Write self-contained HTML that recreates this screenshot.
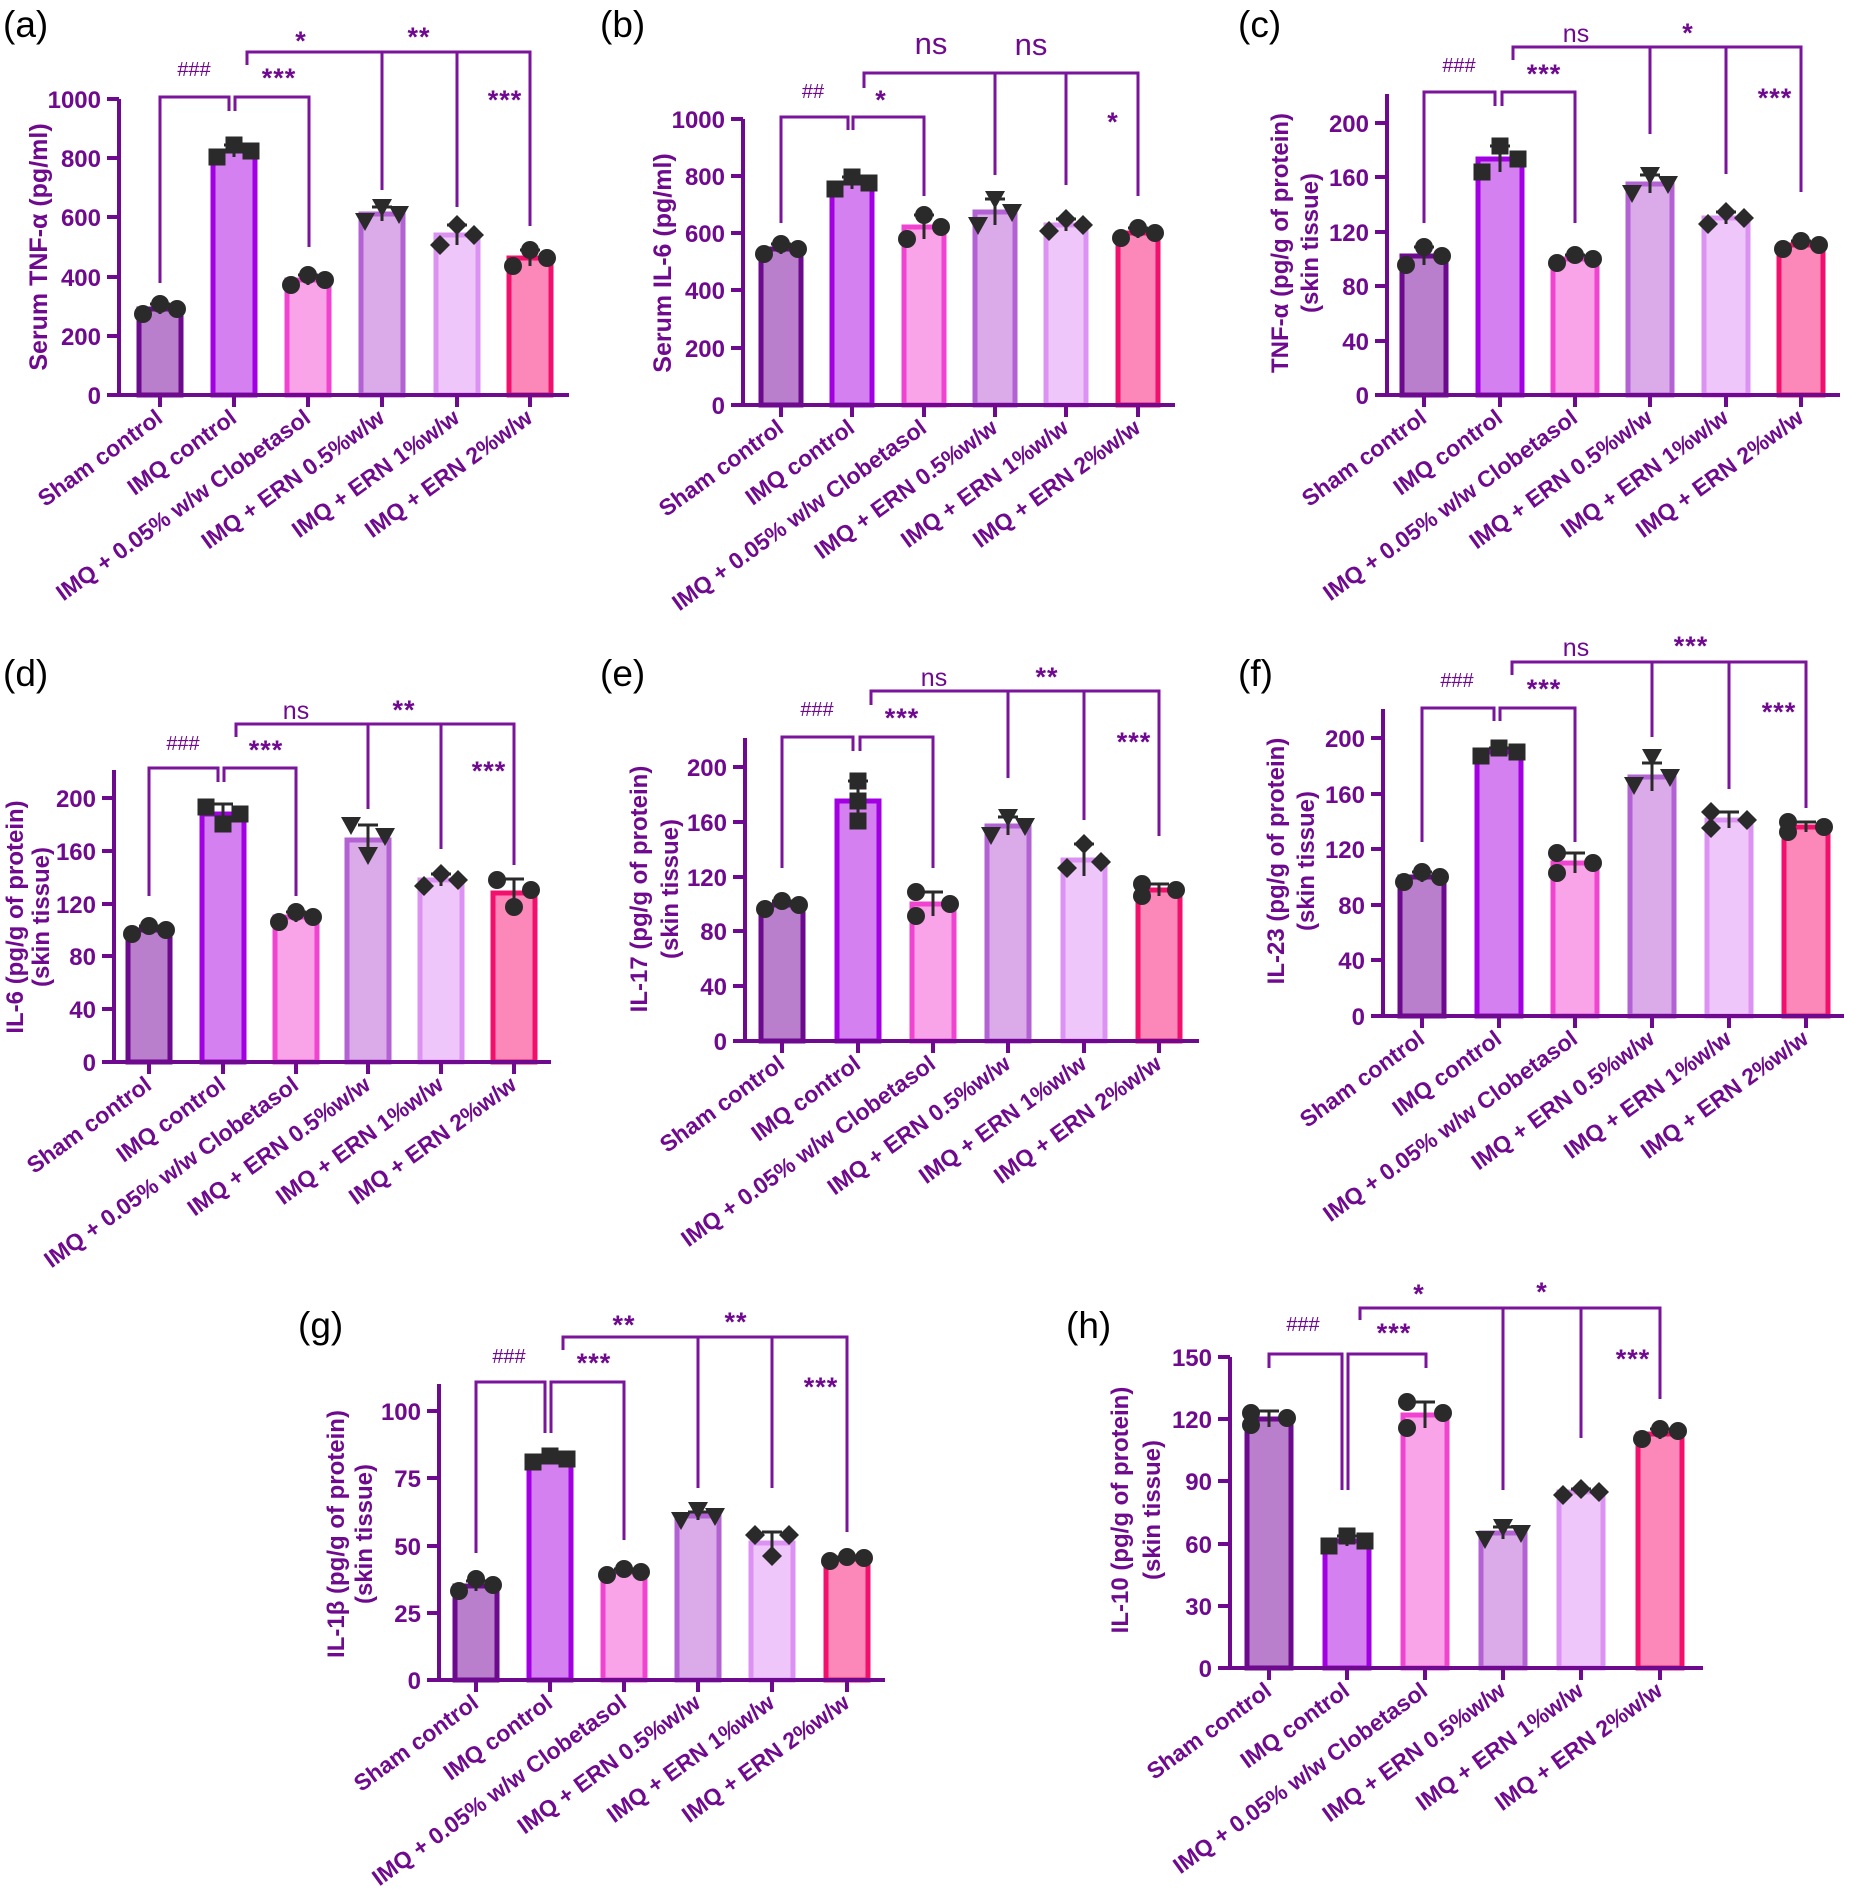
<!DOCTYPE html>
<html><head><meta charset="utf-8"><style>
html,body{margin:0;padding:0;background:#fff}
svg{display:block}
text{font-family:"Liberation Sans",Arial,sans-serif;fill:#6f0a8f}
.tk{font-size:24px;font-weight:bold;text-anchor:end}
.xl{font-size:23px;font-weight:bold;text-anchor:end}
.yl{font-size:25px;font-weight:bold;text-anchor:middle}
.y2{font-size:24px;font-weight:bold;text-anchor:middle}
.pl{font-size:37px;fill:#000}
.hs{font-size:20px;text-anchor:middle}
.st{font-size:27px;font-weight:bold;text-anchor:middle;letter-spacing:1px}
.ns{font-size:25px;text-anchor:middle}
.ns2{font-size:31px;text-anchor:middle}
.ax{fill:none;stroke:#6e0a8e;stroke-width:4}
.br{fill:none;stroke:#7a149a;stroke-width:3}
.eb{fill:none;stroke:#2a2a2a;stroke-width:3}
.m{fill:#2a2a2a}
.b1{fill:#b97fcc;stroke:#6b0a8c;stroke-width:5}
.b2{fill:#d580f0;stroke:#a200e2;stroke-width:5}
.b3{fill:#f9a4e8;stroke:#f043d0;stroke-width:5}
.b4{fill:#dbaae8;stroke:#b262d2;stroke-width:5}
.b5{fill:#efc6fa;stroke:#dc92f2;stroke-width:5}
.b6{fill:#fb88b8;stroke:#f2106c;stroke-width:5}
</style></head><body>
<svg width="1850" height="1893" viewBox="0 0 1850 1893" xmlns="http://www.w3.org/2000/svg">
<defs>
<circle id="c" r="9" class="m"/>
<rect id="q" x="-8.5" y="-8.5" width="17" height="17" class="m"/>
<path id="t" d="M-10,-8 H10 L0,10 Z" class="m"/>
<path id="d" d="M0,-10 L10,0 L0,10 L-10,0 Z" class="m"/>
</defs>

<!-- Panel (a) -->
<text class="pl" x="3" y="37">(a)</text>
<g>
<rect class="b1" x="139" y="309" width="42" height="86"/>
<rect class="b2" x="213" y="151" width="42" height="244"/>
<rect class="b3" x="287" y="280" width="42" height="115"/>
<rect class="b4" x="361" y="214" width="42" height="181"/>
<rect class="b5" x="436" y="235" width="42" height="160"/>
<rect class="b6" x="509" y="258" width="42" height="137"/>
<path class="ax" d="M119,99 V395 H569 M119,99 H107 M119,158 H107 M119,217 H107 M119,277 H107 M119,336 H107 M119,395 H107 M160,395 V407 M234,395 V407 M308,395 V407 M382,395 V407 M457,395 V407 M530,395 V407"/>
<text class="tk" x="101" y="108">1000</text><text class="tk" x="101" y="167">800</text><text class="tk" x="101" y="226">600</text><text class="tk" x="101" y="286">400</text><text class="tk" x="101" y="345">200</text><text class="tk" x="101" y="404">0</text>
<path class="eb" d="M160,304V314M150,304H170 M234,145V157M224,145H244 M308,275V285M298,275H318 M382,207V221M372,207H392 M457,225V245M447,225H467 M530,250V266M520,250H540"/>
<use href="#c" x="143" y="314"/><use href="#c" x="160" y="304"/><use href="#c" x="177" y="309"/>
<use href="#q" x="217" y="157"/><use href="#q" x="234" y="145"/><use href="#q" x="251" y="151"/>
<use href="#c" x="291" y="285"/><use href="#c" x="308" y="275"/><use href="#c" x="325" y="280"/>
<use href="#t" x="365" y="221"/><use href="#t" x="382" y="207"/><use href="#t" x="399" y="214"/>
<use href="#d" x="440" y="245"/><use href="#d" x="457" y="225"/><use href="#d" x="474" y="235"/>
<use href="#c" x="513" y="266"/><use href="#c" x="530" y="250"/><use href="#c" x="547" y="258"/>
<path class="br" d="M160,283 V97 H229 V111 M235,111 V97 H309 V247 M247,65 V52 H530 V226 M382,52 V190 M457,52 V207"/>
<text class="hs" x="194" y="76">###</text><text class="st" x="279" y="87">***</text><text class="st" x="301" y="50">*</text><text class="st" x="419" y="46">**</text><text class="st" x="505" y="109">***</text>
<text class="yl" transform="translate(47,247) rotate(-90)">Serum TNF-α (pg/ml)</text>
<text class="xl" transform="translate(164,421) rotate(-36)">Sham control</text>
<text class="xl" transform="translate(238,421) rotate(-36)">IMQ control</text>
<text class="xl" transform="translate(312,421) rotate(-36)">IMQ + 0.05% w/w Clobetasol</text>
<text class="xl" transform="translate(386,421) rotate(-36)">IMQ + ERN 0.5%w/w</text>
<text class="xl" transform="translate(461,421) rotate(-36)">IMQ + ERN 1%w/w</text>
<text class="xl" transform="translate(534,421) rotate(-36)">IMQ + ERN 2%w/w</text>
</g>

<!-- Panel (b) -->
<text class="pl" x="600" y="37">(b)</text>
<g>
<rect class="b1" x="761" y="249" width="40" height="156"/>
<rect class="b2" x="832" y="183" width="40" height="222"/>
<rect class="b3" x="904" y="227" width="40" height="178"/>
<rect class="b4" x="975" y="212" width="40" height="193"/>
<rect class="b5" x="1046" y="225" width="40" height="180"/>
<rect class="b6" x="1118" y="233" width="40" height="172"/>
<path class="ax" d="M743,119 V405 H1175 M743,119 H731 M743,176 H731 M743,233 H731 M743,290 H731 M743,348 H731 M743,405 H731 M781,405 V417 M852,405 V417 M924,405 V417 M995,405 V417 M1066,405 V417 M1138,405 V417"/>
<text class="tk" x="725" y="128">1000</text><text class="tk" x="725" y="185">800</text><text class="tk" x="725" y="242">600</text><text class="tk" x="725" y="299">400</text><text class="tk" x="725" y="357">200</text><text class="tk" x="725" y="414">0</text>
<path class="eb" d="M781,244V254M771,244H791 M852,177V189M842,177H862 M924,215V239M914,215H934 M995,199V225M985,199H1005 M1066,219V231M1056,219H1076 M1138,228V238M1128,228H1148"/>
<use href="#c" x="764" y="254"/><use href="#c" x="781" y="244"/><use href="#c" x="798" y="249"/>
<use href="#q" x="835" y="189"/><use href="#q" x="852" y="177"/><use href="#q" x="869" y="183"/>
<use href="#c" x="907" y="239"/><use href="#c" x="924" y="215"/><use href="#c" x="941" y="227"/>
<use href="#t" x="978" y="225"/><use href="#t" x="995" y="199"/><use href="#t" x="1012" y="212"/>
<use href="#d" x="1049" y="231"/><use href="#d" x="1066" y="219"/><use href="#d" x="1083" y="225"/>
<use href="#c" x="1121" y="238"/><use href="#c" x="1138" y="228"/><use href="#c" x="1155" y="233"/>
<path class="br" d="M781,223 V117 H848 V130 M853,130 V117 H924 V196 M864,88 V73 H1138 V196 M995,73 V175 M1066,73 V185"/>
<text class="hs" x="813" y="98">##</text><text class="st" x="881" y="109">*</text><text class="ns2" x="931" y="54">ns</text><text class="ns2" x="1031" y="55">ns</text><text class="st" x="1113" y="131">*</text>
<text class="yl" transform="translate(671,263) rotate(-90)">Serum IL-6 (pg/ml)</text>
<text class="xl" transform="translate(785,431) rotate(-36)">Sham control</text>
<text class="xl" transform="translate(856,431) rotate(-36)">IMQ control</text>
<text class="xl" transform="translate(928,431) rotate(-36)">IMQ + 0.05% w/w Clobetasol</text>
<text class="xl" transform="translate(999,431) rotate(-36)">IMQ + ERN 0.5%w/w</text>
<text class="xl" transform="translate(1070,431) rotate(-36)">IMQ + ERN 1%w/w</text>
<text class="xl" transform="translate(1142,431) rotate(-36)">IMQ + ERN 2%w/w</text>
</g>

<!-- Panel (c) -->
<text class="pl" x="1238" y="37">(c)</text>
<g>
<rect class="b1" x="1402" y="256" width="44" height="139"/>
<rect class="b2" x="1478" y="159" width="44" height="236"/>
<rect class="b3" x="1553" y="259" width="44" height="136"/>
<rect class="b4" x="1628" y="184" width="44" height="211"/>
<rect class="b5" x="1704" y="218" width="44" height="177"/>
<rect class="b6" x="1779" y="245" width="44" height="150"/>
<path class="ax" d="M1387,94 V395 H1840 M1387,123 H1375 M1387,177 H1375 M1387,232 H1375 M1387,286 H1375 M1387,341 H1375 M1387,395 H1375 M1424,395 V407 M1500,395 V407 M1575,395 V407 M1650,395 V407 M1726,395 V407 M1801,395 V407"/>
<text class="tk" x="1369" y="132">200</text><text class="tk" x="1369" y="186">160</text><text class="tk" x="1369" y="241">120</text><text class="tk" x="1369" y="295">80</text><text class="tk" x="1369" y="350">40</text><text class="tk" x="1369" y="404">0</text>
<path class="eb" d="M1424,247V265M1414,247H1434 M1500,146V172M1490,146H1510 M1575,255V263M1565,255H1585 M1650,175V193M1640,175H1660 M1726,212V224M1716,212H1736 M1801,241V249M1791,241H1811"/>
<use href="#c" x="1406" y="265"/><use href="#c" x="1424" y="247"/><use href="#c" x="1442" y="256"/>
<use href="#q" x="1482" y="172"/><use href="#q" x="1500" y="146"/><use href="#q" x="1518" y="159"/>
<use href="#c" x="1557" y="263"/><use href="#c" x="1575" y="255"/><use href="#c" x="1593" y="259"/>
<use href="#t" x="1632" y="193"/><use href="#t" x="1650" y="175"/><use href="#t" x="1668" y="184"/>
<use href="#d" x="1708" y="224"/><use href="#d" x="1726" y="212"/><use href="#d" x="1744" y="218"/>
<use href="#c" x="1783" y="249"/><use href="#c" x="1801" y="241"/><use href="#c" x="1819" y="245"/>
<path class="br" d="M1424,223 V92 H1495 V106 M1502,106 V92 H1575 V223 M1513,60 V47 H1801 V192 M1650,47 V134 M1726,47 V174"/>
<text class="hs" x="1459" y="72">###</text><text class="st" x="1544" y="83">***</text><text class="ns" x="1576" y="42">ns</text><text class="st" x="1688" y="42">*</text><text class="st" x="1775" y="107">***</text>
<text class="y2" transform="translate(1288,243) rotate(-90)">TNF-α (pg/g of protein)</text>
<text class="y2" transform="translate(1318,243) rotate(-90)">(skin tissue)</text>
<text class="xl" transform="translate(1428,421) rotate(-36)">Sham control</text>
<text class="xl" transform="translate(1504,421) rotate(-36)">IMQ control</text>
<text class="xl" transform="translate(1579,421) rotate(-36)">IMQ + 0.05% w/w Clobetasol</text>
<text class="xl" transform="translate(1654,421) rotate(-36)">IMQ + ERN 0.5%w/w</text>
<text class="xl" transform="translate(1730,421) rotate(-36)">IMQ + ERN 1%w/w</text>
<text class="xl" transform="translate(1805,421) rotate(-36)">IMQ + ERN 2%w/w</text>
</g>

<!-- Panel (d) -->
<text class="pl" x="3" y="686">(d)</text>
<g>
<rect class="b1" x="128" y="930" width="42" height="132"/>
<rect class="b2" x="202" y="814" width="42" height="248"/>
<rect class="b3" x="275" y="917" width="42" height="145"/>
<rect class="b4" x="347" y="840" width="42" height="222"/>
<rect class="b5" x="420" y="880" width="42" height="182"/>
<rect class="b6" x="493" y="893" width="42" height="169"/>
<path class="ax" d="M114,770 V1062 H551 M114,798 H102 M114,851 H102 M114,904 H102 M114,956 H102 M114,1009 H102 M114,1062 H102 M149,1062 V1074 M223,1062 V1074 M296,1062 V1074 M368,1062 V1074 M441,1062 V1074 M514,1062 V1074"/>
<text class="tk" x="96" y="807">200</text><text class="tk" x="96" y="860">160</text><text class="tk" x="96" y="913">120</text><text class="tk" x="96" y="965">80</text><text class="tk" x="96" y="1018">40</text><text class="tk" x="96" y="1071">0</text>
<path class="eb" d="M149,926V934M139,926H159 M223,804V824M213,804H233 M296,912V922M286,912H306 M368,825V855M358,825H378 M441,874V886M431,874H451 M514,879V907M504,879H524"/>
<use href="#c" x="132" y="934"/><use href="#c" x="149" y="926"/><use href="#c" x="166" y="930"/>
<use href="#q" x="206" y="807"/><use href="#q" x="223" y="824"/><use href="#q" x="240" y="814"/>
<use href="#c" x="279" y="922"/><use href="#c" x="296" y="912"/><use href="#c" x="313" y="917"/>
<use href="#t" x="351" y="825"/><use href="#t" x="368" y="855"/><use href="#t" x="385" y="836"/>
<use href="#d" x="424" y="886"/><use href="#d" x="441" y="874"/><use href="#d" x="458" y="880"/>
<use href="#c" x="497" y="880"/><use href="#c" x="514" y="907"/><use href="#c" x="531" y="890"/>
<path class="br" d="M149,896 V768 H218 V782 M224,782 V768 H296 V896 M236,737 V724 H514 V865 M368,724 V809 M441,724 V849"/>
<text class="hs" x="183" y="750">###</text><text class="st" x="266" y="759">***</text><text class="ns" x="296" y="719">ns</text><text class="st" x="404" y="719">**</text><text class="st" x="489" y="780">***</text>
<text class="y2" transform="translate(23,917) rotate(-90)">IL-6 (pg/g of protein)</text>
<text class="y2" transform="translate(49,917) rotate(-90)">(skin tissue)</text>
<text class="xl" transform="translate(153,1088) rotate(-36)">Sham control</text>
<text class="xl" transform="translate(227,1088) rotate(-36)">IMQ control</text>
<text class="xl" transform="translate(300,1088) rotate(-36)">IMQ + 0.05% w/w Clobetasol</text>
<text class="xl" transform="translate(372,1088) rotate(-36)">IMQ + ERN 0.5%w/w</text>
<text class="xl" transform="translate(445,1088) rotate(-36)">IMQ + ERN 1%w/w</text>
<text class="xl" transform="translate(518,1088) rotate(-36)">IMQ + ERN 2%w/w</text>
</g>

<!-- Panel (e) -->
<text class="pl" x="600" y="686">(e)</text>
<g>
<rect class="b1" x="761" y="905" width="42" height="136"/>
<rect class="b2" x="837" y="801" width="42" height="240"/>
<rect class="b3" x="912" y="904" width="42" height="137"/>
<rect class="b4" x="987" y="826" width="42" height="215"/>
<rect class="b5" x="1063" y="860" width="42" height="181"/>
<rect class="b6" x="1138" y="890" width="42" height="151"/>
<path class="ax" d="M745,738 V1041 H1199 M745,767 H733 M745,822 H733 M745,877 H733 M745,931 H733 M745,986 H733 M745,1041 H733 M782,1041 V1053 M858,1041 V1053 M933,1041 V1053 M1008,1041 V1053 M1084,1041 V1053 M1159,1041 V1053"/>
<text class="tk" x="727" y="776">200</text><text class="tk" x="727" y="831">160</text><text class="tk" x="727" y="886">120</text><text class="tk" x="727" y="940">80</text><text class="tk" x="727" y="995">40</text><text class="tk" x="727" y="1050">0</text>
<path class="eb" d="M782,901V909M772,901H792 M858,781V821M848,781H868 M933,892V916M923,892H943 M1008,817V835M998,817H1018 M1084,844V876M1074,844H1094 M1159,884V896M1149,884H1169"/>
<use href="#c" x="765" y="909"/><use href="#c" x="782" y="901"/><use href="#c" x="799" y="905"/>
<use href="#q" x="858" y="781"/><use href="#q" x="858" y="801"/><use href="#q" x="858" y="821"/>
<use href="#c" x="916" y="916"/><use href="#c" x="916" y="892"/><use href="#c" x="950" y="904"/>
<use href="#t" x="991" y="835"/><use href="#t" x="1008" y="817"/><use href="#t" x="1025" y="826"/>
<use href="#d" x="1067" y="868"/><use href="#d" x="1084" y="844"/><use href="#d" x="1101" y="862"/>
<use href="#c" x="1142" y="896"/><use href="#c" x="1142" y="884"/><use href="#c" x="1176" y="890"/>
<path class="br" d="M782,868 V737 H853 V751 M860,751 V737 H933 V868 M871,705 V691 H1159 V836 M1008,691 V778 M1084,691 V820"/>
<text class="hs" x="817" y="716">###</text><text class="st" x="902" y="727">***</text><text class="ns" x="934" y="686">ns</text><text class="st" x="1047" y="686">**</text><text class="st" x="1134" y="751">***</text>
<text class="y2" transform="translate(647,889) rotate(-90)">IL-17 (pg/g of protein)</text>
<text class="y2" transform="translate(678,889) rotate(-90)">(skin tissue)</text>
<text class="xl" transform="translate(786,1067) rotate(-36)">Sham control</text>
<text class="xl" transform="translate(862,1067) rotate(-36)">IMQ control</text>
<text class="xl" transform="translate(937,1067) rotate(-36)">IMQ + 0.05% w/w Clobetasol</text>
<text class="xl" transform="translate(1012,1067) rotate(-36)">IMQ + ERN 0.5%w/w</text>
<text class="xl" transform="translate(1088,1067) rotate(-36)">IMQ + ERN 1%w/w</text>
<text class="xl" transform="translate(1163,1067) rotate(-36)">IMQ + ERN 2%w/w</text>
</g>

<!-- Panel (f) -->
<text class="pl" x="1238" y="686">(f)</text>
<g>
<rect class="b1" x="1400" y="877" width="44" height="139"/>
<rect class="b2" x="1477" y="752" width="44" height="264"/>
<rect class="b3" x="1553" y="863" width="44" height="153"/>
<rect class="b4" x="1630" y="777" width="44" height="239"/>
<rect class="b5" x="1707" y="820" width="44" height="196"/>
<rect class="b6" x="1784" y="827" width="44" height="189"/>
<path class="ax" d="M1383,709 V1016 H1844 M1383,738 H1371 M1383,794 H1371 M1383,849 H1371 M1383,905 H1371 M1383,960 H1371 M1383,1016 H1371 M1422,1016 V1028 M1499,1016 V1028 M1575,1016 V1028 M1652,1016 V1028 M1729,1016 V1028 M1806,1016 V1028"/>
<text class="tk" x="1365" y="747">200</text><text class="tk" x="1365" y="803">160</text><text class="tk" x="1365" y="858">120</text><text class="tk" x="1365" y="914">80</text><text class="tk" x="1365" y="969">40</text><text class="tk" x="1365" y="1025">0</text>
<path class="eb" d="M1422,872V882M1412,872H1432 M1499,748V756M1489,748H1509 M1575,853V873M1565,853H1585 M1652,763V791M1642,763H1662 M1729,812V828M1719,812H1739 M1806,822V832M1796,822H1816"/>
<use href="#c" x="1404" y="882"/><use href="#c" x="1422" y="872"/><use href="#c" x="1440" y="877"/>
<use href="#q" x="1481" y="756"/><use href="#q" x="1499" y="748"/><use href="#q" x="1517" y="752"/>
<use href="#c" x="1557" y="873"/><use href="#c" x="1557" y="853"/><use href="#c" x="1593" y="863"/>
<use href="#t" x="1634" y="785"/><use href="#t" x="1652" y="757"/><use href="#t" x="1670" y="777"/>
<use href="#d" x="1711" y="828"/><use href="#d" x="1711" y="812"/><use href="#d" x="1747" y="820"/>
<use href="#c" x="1788" y="832"/><use href="#c" x="1788" y="822"/><use href="#c" x="1824" y="827"/>
<path class="br" d="M1422,842 V708 H1494 V721 M1500,721 V708 H1575 V842 M1512,675 V662 H1806 V808 M1652,662 V737 M1729,662 V789"/>
<text class="hs" x="1457" y="687">###</text><text class="st" x="1544" y="698">***</text><text class="ns" x="1576" y="656">ns</text><text class="st" x="1691" y="655">***</text><text class="st" x="1779" y="721">***</text>
<text class="y2" transform="translate(1284,861) rotate(-90)">IL-23 (pg/g of protein)</text>
<text class="y2" transform="translate(1314,861) rotate(-90)">(skin tissue)</text>
<text class="xl" transform="translate(1426,1042) rotate(-36)">Sham control</text>
<text class="xl" transform="translate(1503,1042) rotate(-36)">IMQ control</text>
<text class="xl" transform="translate(1579,1042) rotate(-36)">IMQ + 0.05% w/w Clobetasol</text>
<text class="xl" transform="translate(1656,1042) rotate(-36)">IMQ + ERN 0.5%w/w</text>
<text class="xl" transform="translate(1733,1042) rotate(-36)">IMQ + ERN 1%w/w</text>
<text class="xl" transform="translate(1810,1042) rotate(-36)">IMQ + ERN 2%w/w</text>
</g>

<!-- Panel (g) -->
<text class="pl" x="298" y="1338">(g)</text>
<g>
<rect class="b1" x="455" y="1586" width="42" height="94"/>
<rect class="b2" x="529" y="1459" width="42" height="221"/>
<rect class="b3" x="603" y="1572" width="42" height="108"/>
<rect class="b4" x="677" y="1516" width="42" height="164"/>
<rect class="b5" x="751" y="1543" width="42" height="137"/>
<rect class="b6" x="826" y="1559" width="42" height="121"/>
<path class="ax" d="M439,1384 V1680 H885 M439,1411 H427 M439,1478 H427 M439,1546 H427 M439,1613 H427 M439,1680 H427 M476,1680 V1692 M550,1680 V1692 M624,1680 V1692 M698,1680 V1692 M772,1680 V1692 M847,1680 V1692"/>
<text class="tk" x="421" y="1420">100</text><text class="tk" x="421" y="1487">75</text><text class="tk" x="421" y="1555">50</text><text class="tk" x="421" y="1622">25</text><text class="tk" x="421" y="1689">0</text>
<path class="eb" d="M476,1581V1591M466,1581H486 M550,1456V1462M540,1456H560 M624,1569V1575M614,1569H634 M698,1512V1520M688,1512H708 M772,1532V1554M762,1532H782 M847,1557V1561M837,1557H857"/>
<use href="#c" x="459" y="1591"/><use href="#c" x="476" y="1579"/><use href="#c" x="493" y="1585"/>
<use href="#q" x="533" y="1462"/><use href="#q" x="550" y="1456"/><use href="#q" x="567" y="1459"/>
<use href="#c" x="607" y="1575"/><use href="#c" x="624" y="1569"/><use href="#c" x="641" y="1572"/>
<use href="#t" x="681" y="1520"/><use href="#t" x="698" y="1510"/><use href="#t" x="715" y="1516"/>
<use href="#d" x="755" y="1535"/><use href="#d" x="772" y="1556"/><use href="#d" x="789" y="1535"/>
<use href="#c" x="830" y="1561"/><use href="#c" x="847" y="1557"/><use href="#c" x="864" y="1558"/>
<path class="br" d="M476,1553 V1382 H545 V1433 M551,1433 V1382 H624 V1540 M563,1350 V1337 H847 V1532 M698,1337 V1488 M772,1337 V1488"/>
<text class="hs" x="509" y="1363">###</text><text class="st" x="594" y="1372">***</text><text class="st" x="624" y="1334">**</text><text class="st" x="736" y="1331">**</text><text class="st" x="821" y="1396">***</text>
<text class="y2" transform="translate(344,1534) rotate(-90)">IL-1β (pg/g of protein)</text>
<text class="y2" transform="translate(372,1534) rotate(-90)">(skin tissue)</text>
<text class="xl" transform="translate(480,1706) rotate(-36)">Sham control</text>
<text class="xl" transform="translate(554,1706) rotate(-36)">IMQ control</text>
<text class="xl" transform="translate(628,1706) rotate(-36)">IMQ + 0.05% w/w Clobetasol</text>
<text class="xl" transform="translate(702,1706) rotate(-36)">IMQ + ERN 0.5%w/w</text>
<text class="xl" transform="translate(776,1706) rotate(-36)">IMQ + ERN 1%w/w</text>
<text class="xl" transform="translate(851,1706) rotate(-36)">IMQ + ERN 2%w/w</text>
</g>

<!-- Panel (h) -->
<text class="pl" x="1066" y="1338">(h)</text>
<g>
<rect class="b1" x="1247" y="1419" width="44" height="249"/>
<rect class="b2" x="1325" y="1541" width="44" height="127"/>
<rect class="b3" x="1403" y="1415" width="44" height="253"/>
<rect class="b4" x="1481" y="1533" width="44" height="135"/>
<rect class="b5" x="1559" y="1492" width="44" height="176"/>
<rect class="b6" x="1638" y="1434" width="44" height="234"/>
<path class="ax" d="M1230,1357 V1668 H1703 M1230,1357 H1218 M1230,1419 H1218 M1230,1481 H1218 M1230,1544 H1218 M1230,1606 H1218 M1230,1668 H1218 M1269,1668 V1680 M1347,1668 V1680 M1425,1668 V1680 M1503,1668 V1680 M1581,1668 V1680 M1660,1668 V1680"/>
<text class="tk" x="1212" y="1366">150</text><text class="tk" x="1212" y="1428">120</text><text class="tk" x="1212" y="1490">90</text><text class="tk" x="1212" y="1553">60</text><text class="tk" x="1212" y="1615">30</text><text class="tk" x="1212" y="1677">0</text>
<path class="eb" d="M1269,1411V1427M1259,1411H1279 M1347,1536V1546M1337,1536H1357 M1425,1402V1428M1415,1402H1435 M1503,1527V1539M1493,1527H1513 M1581,1489V1495M1571,1489H1591 M1660,1429V1439M1650,1429H1670"/>
<use href="#c" x="1251" y="1413"/><use href="#c" x="1251" y="1425"/><use href="#c" x="1287" y="1418"/>
<use href="#q" x="1329" y="1546"/><use href="#q" x="1347" y="1536"/><use href="#q" x="1365" y="1541"/>
<use href="#c" x="1407" y="1402"/><use href="#c" x="1407" y="1428"/><use href="#c" x="1443" y="1413"/>
<use href="#t" x="1485" y="1539"/><use href="#t" x="1503" y="1527"/><use href="#t" x="1521" y="1533"/>
<use href="#d" x="1563" y="1495"/><use href="#d" x="1581" y="1489"/><use href="#d" x="1599" y="1492"/>
<use href="#c" x="1642" y="1439"/><use href="#c" x="1660" y="1429"/><use href="#c" x="1678" y="1431"/>
<path class="br" d="M1269,1368 V1354 H1342 V1490 M1348,1490 V1354 H1426 V1368 M1360,1320 V1308 H1660 V1399 M1503,1308 V1490 M1581,1308 V1438"/>
<text class="hs" x="1303" y="1331">###</text><text class="st" x="1394" y="1342">***</text><text class="st" x="1419" y="1303">*</text><text class="st" x="1542" y="1301">*</text><text class="st" x="1633" y="1368">***</text>
<text class="y2" transform="translate(1128,1510) rotate(-90)">IL-10 (pg/g of protein)</text>
<text class="y2" transform="translate(1160,1510) rotate(-90)">(skin tissue)</text>
<text class="xl" transform="translate(1273,1694) rotate(-36)">Sham control</text>
<text class="xl" transform="translate(1351,1694) rotate(-36)">IMQ control</text>
<text class="xl" transform="translate(1429,1694) rotate(-36)">IMQ + 0.05% w/w Clobetasol</text>
<text class="xl" transform="translate(1507,1694) rotate(-36)">IMQ + ERN 0.5%w/w</text>
<text class="xl" transform="translate(1585,1694) rotate(-36)">IMQ + ERN 1%w/w</text>
<text class="xl" transform="translate(1664,1694) rotate(-36)">IMQ + ERN 2%w/w</text>
</g>
</svg>
</body></html>
